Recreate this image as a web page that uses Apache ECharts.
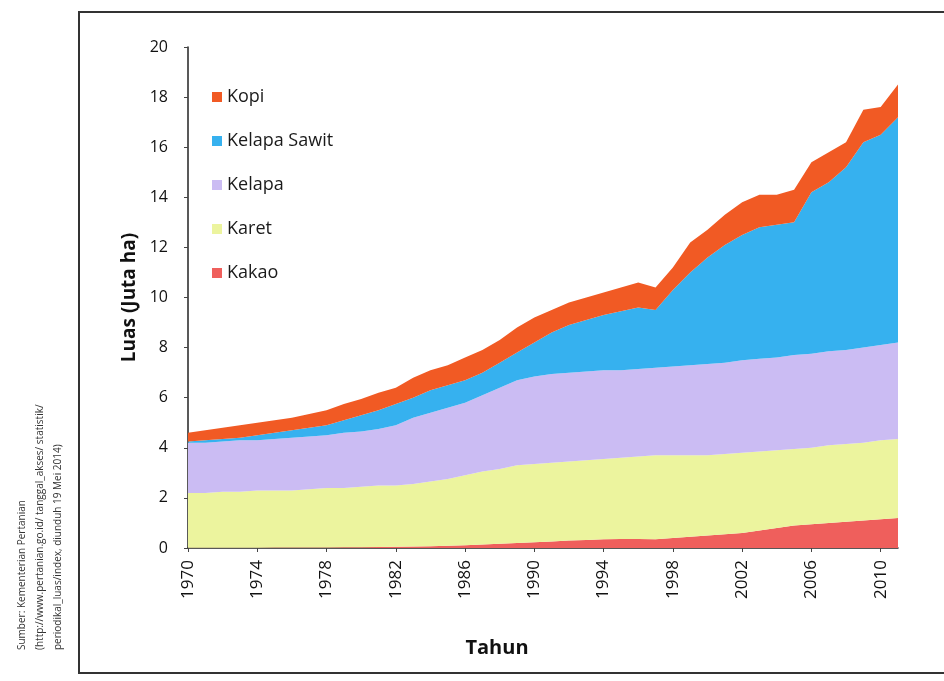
<!DOCTYPE html>
<html>
<head>
<meta charset="utf-8">
<script src="https://cdn.jsdelivr.net/npm/echarts@6/dist/echarts.min.js"></script>
<style>
html,body{margin:0;padding:0;background:#fff;}
#chart{width:944px;height:681px;}
</style>
</head>
<body>
<div id="chart"></div>
<script>
// Years (x axis categories)
var years = [];
for (var y = 1970; y <= 2011; y++) years.push(String(y));

// Area (juta ha)
var kakao = [0.01,0.01,0.01,0.01,0.01,0.02,0.02,0.02,0.02,0.03,
             0.03,0.04,0.05,0.06,0.07,0.09,0.11,0.14,0.17,0.20,
             0.23,0.26,0.30,0.32,0.35,0.36,0.36,0.35,0.40,0.45,
             0.50,0.55,0.60,0.70,0.80,0.90,0.95,1.00,1.05,1.10,
             1.15,1.20];
var karet = [2.19,2.19,2.24,2.24,2.29,2.28,2.28,2.33,2.38,2.37,
             2.42,2.46,2.45,2.49,2.58,2.66,2.79,2.91,2.98,3.10,
             3.12,3.14,3.15,3.18,3.20,3.24,3.29,3.35,3.30,3.25,
             3.20,3.20,3.20,3.15,3.10,3.05,3.05,3.10,3.10,3.10,
             3.15,3.15];
var kelapa = [2.00,2.00,2.00,2.05,2.00,2.05,2.10,2.10,2.10,2.20,
              2.20,2.25,2.40,2.65,2.75,2.85,2.90,3.05,3.25,3.40,
              3.50,3.55,3.55,3.55,3.55,3.50,3.50,3.50,3.55,3.60,
              3.65,3.65,3.70,3.70,3.70,3.75,3.75,3.75,3.75,3.80,
              3.80,3.85];
var kelapaSawit = [0.05,0.10,0.10,0.10,0.20,0.25,0.30,0.35,0.40,0.50,
                   0.65,0.75,0.85,0.80,0.90,0.90,0.90,0.90,1.00,1.10,
                   1.35,1.65,1.90,2.05,2.20,2.35,2.45,2.30,3.05,3.70,
                   4.25,4.70,5.00,5.25,5.30,5.30,6.45,6.75,7.30,8.20,
                   8.40,9.00];
var kopi = [0.35,0.40,0.45,0.50,0.50,0.50,0.50,0.55,0.60,0.65,
            0.65,0.70,0.65,0.80,0.80,0.80,0.90,0.90,0.90,1.00,
            1.00,0.90,0.90,0.90,0.90,0.95,1.00,0.90,0.90,1.20,
            1.10,1.20,1.30,1.30,1.20,1.30,1.20,1.20,1.00,1.30,
            1.10,1.30];

var seriesNames = ['Kakao','Karet','Kelapa','Kelapa Sawit','Kopi'];
var seriesData = [kakao, karet, kelapa, kelapaSawit, kopi];
var seriesColors = ['#ef5f5c','#ecf49e','#cbbcf3','#36b1ef','#f15a24'];
var legendOrder = ['Kopi','Kelapa Sawit','Kelapa','Karet','Kakao'];
var yTicks = {min:0, max:20, interval:2};

var FONT = 'Open Sans';

var chart = echarts.init(document.getElementById('chart'), null, {renderer:'canvas'});

var series = seriesNames.map(function(n, i){
  return {
    name: n,
    type: 'line',
    stack: 'total',
    data: seriesData[i],
    showSymbol: false,
    symbol: 'none',
    lineStyle: {width: 0},
    areaStyle: {color: seriesColors[i], opacity: 1},
    itemStyle: {color: seriesColors[i]},
    emphasis: {disabled: true},
    z: 2
  };
});

chart.setOption({
  animation: false,
  backgroundColor: '#ffffff',
  textStyle: {fontFamily: FONT},
  grid: {left: 188, right: 46, top: 47, bottom: 133},
  legend: {
    data: legendOrder,
    orient: 'vertical',
    left: 207,
    top: 82,
    itemWidth: 10,
    itemHeight: 10,
    itemGap: 24,
    icon: 'rect',
    textStyle: {fontSize: 18, lineHeight: 20, color: '#1a1a1a', fontFamily: FONT, padding: [0, 0, 0, 0]}
  },
  xAxis: {
    type: 'category',
    data: years,
    boundaryGap: false,
    axisLine: {show: true, lineStyle: {color: '#222', width: 1.5}},
    axisTick: {show: true, interval: 3, length: 4, lineStyle: {color: '#444'}},
    axisLabel: {interval: 3, rotate: 90, fontSize: 17, color: '#111', margin: 12, fontFamily: FONT},
    splitLine: {show: false}
  },
  yAxis: {
    type: 'value',
    min: yTicks.min,
    max: yTicks.max,
    interval: yTicks.interval,
    name: 'Luas (Juta ha)',
    nameLocation: 'middle',
    nameGap: 48,
    nameRotate: 90,
    nameTextStyle: {fontSize: 19, fontWeight: 'bold', color: '#111', fontFamily: FONT},
    axisLine: {show: true, lineStyle: {color: '#222', width: 1.5}},
    axisTick: {show: true, length: 4, lineStyle: {color: '#444'}},
    axisLabel: {fontSize: 16, color: '#111', margin: 20, fontFamily: FONT},
    splitLine: {show: false}
  },
  graphic: [
    {
      type: 'rect',
      shape: {x: 79, y: 12, width: 900, height: 661},
      style: {fill: 'none', stroke: '#333', lineWidth: 2},
      silent: true
    },
    {
      type: 'text', x: 497, y: 648,
      style: {text: 'Tahun', fontSize: 20, fontWeight: 'bold', fill: '#111', fontFamily: FONT,
              textAlign: 'center', textVerticalAlign: 'middle'}
    },
    {
      type: 'text', x: 22, y: 650, rotation: Math.PI / 2,
      style: {text: 'Sumber: Kementerian Pertanian', fontSize: 10, fill: '#333', fontFamily: FONT,
              textAlign: 'left', textVerticalAlign: 'middle'}
    },
    {
      type: 'text', x: 40, y: 650, rotation: Math.PI / 2,
      style: {text: '(http://www.pertanian.go.id/ tanggal_akses/ statistik/', fontSize: 10, fill: '#333', fontFamily: FONT,
              textAlign: 'left', textVerticalAlign: 'middle'}
    },
    {
      type: 'text', x: 58, y: 650, rotation: Math.PI / 2,
      style: {text: 'periodikal_luas/index, diunduh 19 Mei 2014)', fontSize: 10, fill: '#333', fontFamily: FONT,
              textAlign: 'left', textVerticalAlign: 'middle'}
    }
  ],
  series: series
});
</script>
</body>
</html>
